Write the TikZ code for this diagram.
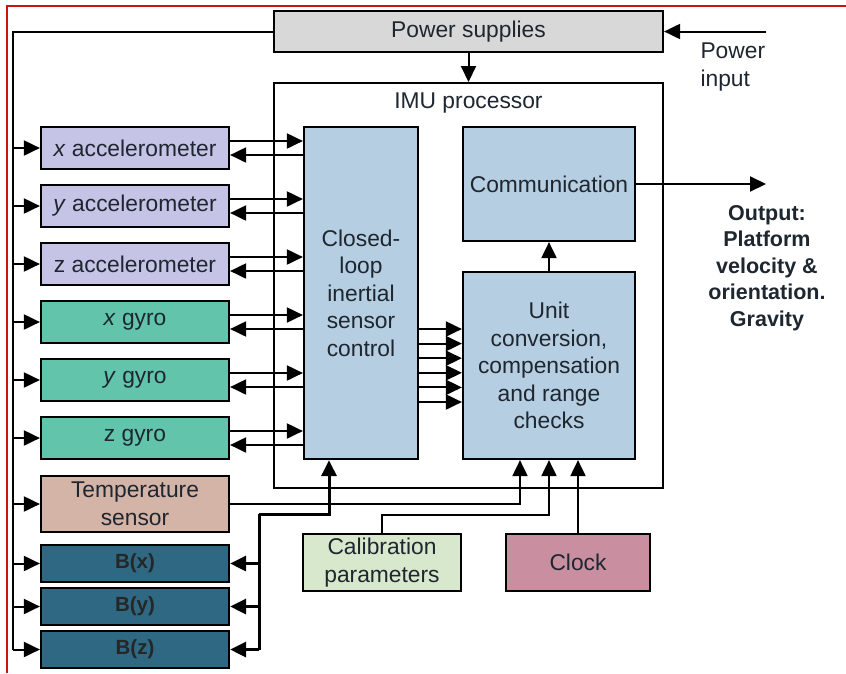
\documentclass[tikz,border=0pt]{standalone}
\usepackage{fontspec}
\setmainfont{Liberation Sans}
\usepackage{tikz}
\usetikzlibrary{positioning, arrows.meta, calc}
\definecolor{inkcol}{HTML}{1E2630}
\definecolor{powerfill}{HTML}{D8D8D8}
\definecolor{accelfill}{HTML}{C6C4E6}
\definecolor{gyrofill}{HTML}{62C4AA}
\definecolor{tempfill}{HTML}{D5B4A8}
\definecolor{magfill}{HTML}{2E6882}
\definecolor{procfill}{HTML}{B6CEE1}
\definecolor{calibfill}{HTML}{D8E8CC}
\definecolor{clockfill}{HTML}{C98FA0}
\definecolor{framered}{HTML}{C81414}
\tikzset{
  block/.style={rectangle, draw=black, line width=2.2pt, text centered, align=center, inner sep=0pt, text=inkcol},
  sensor/.style={block, minimum width=188pt, minimum height=41.8pt},
  accel/.style={sensor, fill=accelfill},
  gyro/.style={sensor, fill=gyrofill},
  tempbox/.style={sensor, minimum height=55.8pt, fill=tempfill},
  magbox/.style={sensor, minimum height=36.8pt, fill=magfill, text=black!85, font=\fontsize{20.5}{23}\selectfont\bfseries},
  procbox/.style={block, fill=procfill},
  arrow/.style={line width=2pt, -{Triangle[length=16pt, width=15pt]}},
  wire/.style={line width=2pt},
  buswire/.style={line width=3pt}
}
\begin{document}
\begin{tikzpicture}[
    x=1pt, y=-1pt,
    node distance=14pt,
    every node/.style={font=\fontsize{22.8}{27.5}\selectfont}
]
    \useasboundingbox (0,0) rectangle (846,673);
    \draw [framered, line width=2pt] (7,673) -- (7,6) -- (846,6);

    % power and processor
    \node (power) [block, fill=powerfill, minimum width=389pt, minimum height=41pt] at (468.5,31.5) {Power supplies};
    \node (imu) [rectangle, draw=black, line width=2pt, minimum width=389pt, minimum height=405pt] at (468.5,285.5) {};
    \node (imutitle) [text=inkcol] at (468.5,103) {IMU processor};
    \node (ctrl) [procbox, minimum width=114pt, minimum height=332pt] at (361,293) {Closed-\\loop\\inertial\\sensor\\control};
    \node (comm) [procbox, minimum width=172pt, minimum height=114pt] at (549,184) {Communication};
    \node (unit) [procbox, minimum width=172pt, minimum height=187pt] at (549,365.5) {Unit\\conversion,\\compensation\\and range\\checks};

    % sensors
    \node (xacc) [accel] at (135,148) {\textit{x} accelerometer};
    \node (yacc) [accel, below=of xacc] {\textit{y} accelerometer};
    \node (zacc) [accel, below=of yacc] {z accelerometer};
    \node (xgyro) [gyro, below=of zacc] {\textit{x} gyro};
    \node (ygyro) [gyro, below=of xgyro] {\textit{y} gyro};
    \node (zgyro) [gyro, below=of ygyro] {z gyro};
    \node (temp) [tempbox, below=15pt of zgyro] {Temperature\\sensor};
    \node (bx) [magbox, below=11pt of temp] {B(x)};
    \node (by) [magbox, below=4pt of bx] {B(y)};
    \node (bz) [magbox, below=4pt of by] {B(z)};

    \node (calib) [block, fill=calibfill, minimum width=158pt, minimum height=57pt] at (382,562.5) {Calibration\\parameters};
    \node (clock) [block, fill=clockfill, minimum width=144pt, minimum height=57pt] at (578,562.5) {Clock};

    % outside texts
    \node (pintext) [anchor=west, align=left, text=inkcol] at (697,67) {Power\\input};
    \node (outtext) [align=center, text=inkcol, font=\fontsize{21.5}{26.5}\selectfont\bfseries] at (767,268) {Output:\\Platform\\velocity \&\\orientation.\\Gravity};

    \coordinate (pin) at (766,31.5);
    \coordinate (out) at (766,184);
    \coordinate (bus) at (13,31.5);
    \coordinate (bjoin) at (259,514);

    % connectors
    \draw [arrow] (pin) -- (power.east);
    \draw [arrow] (power.south) -- (imu.north);
    \draw [wire] (power.west) -- (bus) -- (bus |- bz.west);
    \foreach \s in {xacc,yacc,zacc,xgyro,ygyro,zgyro,temp,bx,by,bz}
        \draw [arrow] (bus |- \s.west) -- (\s.west);
    \foreach \s in {xacc,yacc,zacc,xgyro,ygyro,zgyro} {
        \coordinate (up) at ([yshift=7pt]\s.east);
        \coordinate (dn) at ([yshift=-7pt]\s.east);
        \draw [arrow] (up) -- (up -| ctrl.west);
        \draw [arrow] (dn -| ctrl.west) -- (dn);
    }
    \foreach \k [evaluate=\k as \yy using 329+14.6*\k] in {0,...,5}
        \draw [arrow] (ctrl.east |- 0,\yy) -- (unit.west |- 0,\yy);
    \draw [arrow] (unit.north) -- (comm.south);
    \draw [arrow] (comm.east) -- (out);
    \draw [arrow] (temp.east) -| ([xshift=-29pt]unit.south);
    \draw [arrow] (calib.north) -- ++(0,-18) -| (unit.south);
    \draw [arrow] (clock.north) -- (clock.north |- unit.south);
    \draw [arrow, buswire] (bjoin) -| ([xshift=-32pt]ctrl.south);
    \draw [buswire] (bjoin) -- (bjoin |- bz.east);
    \foreach \s in {bx,by,bz}
        \draw [arrow, buswire] (bjoin |- \s.east) -- (\s.east);
\end{tikzpicture}
\end{document}
